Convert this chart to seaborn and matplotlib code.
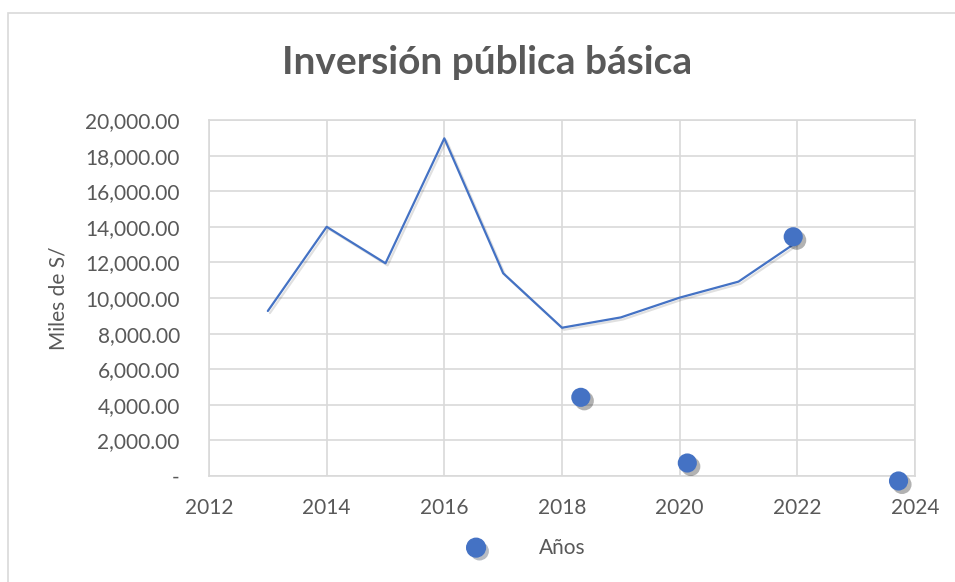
import matplotlib
matplotlib.use("Agg")
import matplotlib.pyplot as plt
import matplotlib.patheffects as pe
from matplotlib.patches import Rectangle
from matplotlib.lines import Line2D
import seaborn as sns
import pandas as pd

# ---- data ----
line_years = [2013, 2014, 2015, 2016, 2017, 2018, 2019, 2020, 2021, 2022]
line_values = [9270, 14000, 11950, 18970, 11390, 8330, 8910, 10020, 10920, 13160]
point_x = [2018.32, 2020.13, 2021.93, 2023.72]
point_y = [4420, 730, 13440, -280]
x_ticks = [2012, 2014, 2016, 2018, 2020, 2022, 2024]
y_ticks = [0, 2000, 4000, 6000, 8000, 10000, 12000, 14000, 16000, 18000, 20000]
title = "Inversión pública básica"
x_label = "Años"
y_label = "Miles de S/"

sns.set_theme(style="white")
plt.rcParams['font.family'] = ['Lato', 'DejaVu Sans']

BLUE = "#4472C4"
TXT = "#595959"
GRID = "#D9D9D9"

fig = plt.figure(figsize=(9.55, 5.82), dpi=100)
ax = fig.add_axes([209/955, 1-476/582, (915-209)/955, (476-120)/582])

# outer chart border
fig.patches.append(Rectangle((8/955, -0.05), 1.0, 1-13/582+0.05, transform=fig.transFigure,
                             fill=False, edgecolor=GRID, linewidth=1.2))

line_df = pd.DataFrame({"year": line_years, "value": line_values})
pts_df = pd.DataFrame({"x": point_x, "y": point_y})

sns.lineplot(data=line_df, x="year", y="value", ax=ax, color=BLUE, linewidth=1.6,
             zorder=3)
for l in ax.lines:
    l.set_path_effects([pe.SimpleLineShadow(offset=(1.5, -1.5), shadow_color="#000000", alpha=0.12),
                        pe.Normal()])

sns.scatterplot(data=pts_df, x="x", y="y", ax=ax, color=BLUE, s=190, edgecolor="none",
                zorder=4, clip_on=False)
for c in ax.collections:
    c.set_path_effects([pe.SimplePatchShadow(offset=(2.5, -2.5), shadow_rgbFace="#000000", alpha=0.3),
                        pe.Normal()])

ax.set_xlim(2012, 2024)
ax.set_ylim(0, 20000)
ax.set_xticks(x_ticks)
ax.set_yticks(y_ticks)
ax.set_xticklabels([str(t) for t in x_ticks])
ax.set_yticklabels(["-" if v == 0 else f"{v:,.2f}" for v in y_ticks])
ax.tick_params(axis="both", colors=TXT, labelsize=15, length=0)
ax.tick_params(axis="x", pad=16)
ax.tick_params(axis="y", pad=21)

ax.grid(True, color=GRID, linewidth=1.2)
ax.set_axisbelow(True)
for s in ax.spines.values():
    s.set_color(GRID)
    s.set_linewidth(1.2)

ax.set_xlabel(x_label, color=TXT, fontsize=15, labelpad=14)
ax.set_ylabel(y_label, color=TXT, fontsize=15, labelpad=12)

fig.text(487/955, 1-62/582, title, ha="center", va="center", fontsize=28,
         fontweight="bold", color=TXT)

handle = Line2D([], [], linestyle="none", marker="o", markersize=13.5, color=BLUE,
                path_effects=[pe.SimplePatchShadow(offset=(2.5, -2.5), alpha=0.3), pe.Normal()])
fig.legend(handles=[handle], labels=[" "], loc="center", bbox_to_anchor=(478/955, 1-549/582),
           frameon=False, handletextpad=0, borderpad=0)

fig.savefig("out.png", dpi=100)
